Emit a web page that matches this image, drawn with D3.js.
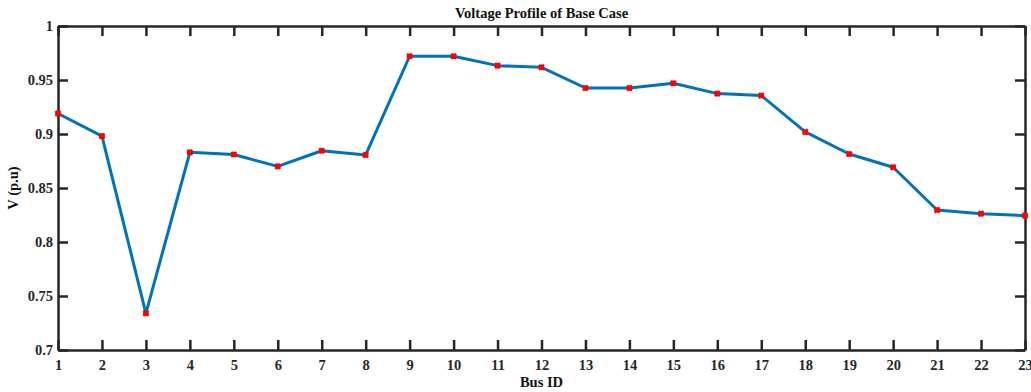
<!DOCTYPE html>
<html>
<head>
<meta charset="utf-8">
<script src="https://cdn.jsdelivr.net/npm/d3@7"></script>
<style>
  html, body { margin: 0; padding: 0; background: #fff; }
  svg { display: block; font-family: "Liberation Serif", "Times New Roman", serif; font-weight: bold; }
</style>
</head>
<body>
<svg id="chart" width="1031" height="392"></svg>
<script>
// Bus numbers and per-unit voltage at each bus
const busIds = d3.range(1, 24);
const voltages = [0.919, 0.898, 0.734, 0.883, 0.881, 0.870, 0.8845, 0.8806, 0.972, 0.972,
                  0.9633, 0.9617, 0.9426, 0.9426, 0.947, 0.9374, 0.9356, 0.9019, 0.8815,
                  0.8692, 0.8296, 0.8262, 0.8244];
const yTicks = [0.7, 0.75, 0.8, 0.85, 0.9, 0.95, 1];
const yTickLabels = ["0.7", "0.75", "0.8", "0.85", "0.9", "0.95", "1"];

const titleText = "Voltage Profile of Base Case";
const xLabel = "Bus ID";
const yLabel = "V (p.u)";

const svg = d3.select("#chart");
const plot = { left: 58, right: 1025, top: 26, bottom: 350 };
const axisColor = "#262626";
const tickLen = 10;
const fontSize = 14.5;

const x = d3.scaleLinear().domain([1, 23]).range([plot.left, plot.right]);
const y = d3.scaleLinear().domain([0.7, 1]).range([plot.bottom, plot.top]);

// Axes with inward ticks on all four sides
const gx = svg.append("g").attr("transform", `translate(0,${plot.bottom})`)
  .call(d3.axisBottom(x).tickValues(busIds).tickFormat(d3.format("d"))
    .tickSizeInner(-tickLen).tickSizeOuter(0).tickPadding(10));
const gxTop = svg.append("g").attr("transform", `translate(0,${plot.top})`)
  .call(d3.axisTop(x).tickValues(busIds).tickFormat("").tickSizeInner(-tickLen).tickSizeOuter(0));
const gy = svg.append("g").attr("transform", `translate(${plot.left},0)`)
  .call(d3.axisLeft(y).tickValues(yTicks).tickFormat((d, i) => yTickLabels[i])
    .tickSizeInner(-tickLen).tickSizeOuter(0).tickPadding(5));
const gyRight = svg.append("g").attr("transform", `translate(${plot.right},0)`)
  .call(d3.axisRight(y).tickValues(yTicks).tickFormat("").tickSizeInner(-tickLen).tickSizeOuter(0));

[gx, gxTop, gy, gyRight].forEach(g => {
  g.selectAll(".domain").attr("stroke", axisColor).attr("stroke-width", 2.5);
  g.selectAll(".tick line").attr("stroke", axisColor).attr("stroke-width", 2.5);
  g.selectAll(".tick text").attr("fill", axisColor)
    .style("font-family", "Liberation Serif, serif").style("font-weight", "bold")
    .style("font-size", fontSize + "px");
});

// Voltage profile line
const line = d3.line().x((d, i) => x(busIds[i])).y(d => y(d));
svg.append("path").datum(voltages)
  .attr("d", line).attr("fill", "none")
  .attr("stroke", "#0072BD").attr("stroke-width", 3).attr("stroke-linejoin", "round");

// Asterisk markers
const star = d3.symbol().type(d3.symbolCross).size(28);
svg.append("g").selectAll("path").data(voltages).join("path")
  .attr("d", star)
  .attr("transform", (d, i) => `translate(${x(busIds[i])},${y(d)}) rotate(45)`)
  .attr("fill", "#ff0000");
svg.append("g").selectAll("circle").data(voltages).join("circle")
  .attr("cx", (d, i) => x(busIds[i])).attr("cy", d => y(d)).attr("r", 2.8)
  .attr("fill", "#ff0000");

// Title and axis labels
svg.append("text").attr("x", (plot.left + plot.right) / 2).attr("y", 18)
  .attr("text-anchor", "middle").attr("font-size", fontSize).attr("fill", "#111")
  .text(titleText);
svg.append("text").attr("x", (plot.left + plot.right) / 2).attr("y", 387)
  .attr("text-anchor", "middle").attr("font-size", fontSize).attr("fill", "#111")
  .text(xLabel);
svg.append("text").attr("transform", `translate(18,${(plot.top + plot.bottom) / 2}) rotate(-90)`)
  .attr("text-anchor", "middle").attr("font-size", fontSize).attr("fill", "#111")
  .text(yLabel);
</script>
</body>
</html>
